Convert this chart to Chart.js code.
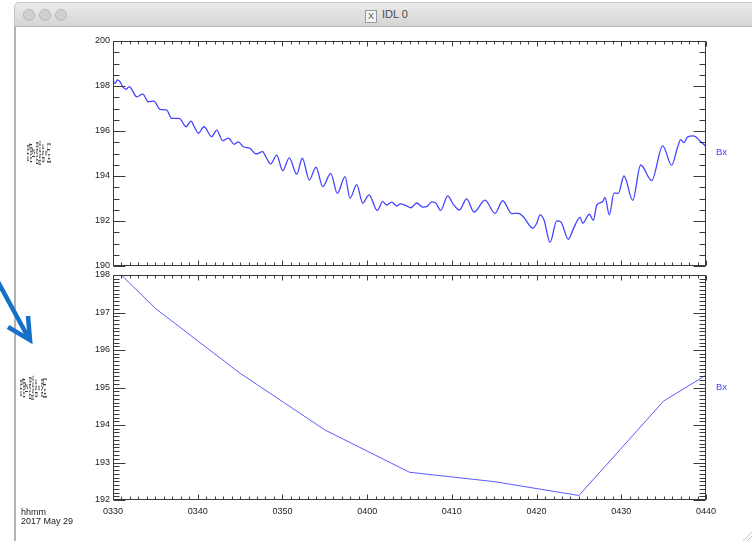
<!DOCTYPE html>
<html>
<head>
<meta charset="utf-8">
<script src="https://cdn.jsdelivr.net/npm/chart.js@4/dist/chart.umd.min.js"></script>
<style>
  html, body { margin: 0; padding: 0; background: #ffffff; width: 752px; height: 541px; overflow: hidden; }
  body { position: relative; font-family: "Liberation Sans", Arial, sans-serif; }
  canvas.plot { position: absolute; left: 0; top: 0; }
  .titlebar { position: absolute; left: 14px; top: 2px; width: 760px; height: 23px;
    background: linear-gradient(#ebebeb, #d5d5d5); border-bottom: 1px solid #b5b5b5;
    border-top-left-radius: 5px; border-top: 1px solid #c8c8c8; border-left: 1px solid #c0c0c0; }
  .dot { position: absolute; top: 6px; width: 12px; height: 12px; border-radius: 50%;
    background: #cfcfcf; border: 1px solid #b8b8b8; box-sizing: border-box; }
  .wtitle { position: absolute; left: 350px; top: 5px; font-size: 11px; color: #4a4a4a; }
  .xicon { display: inline-block; width: 10px; height: 11px; border: 1px solid #9a9a9a; font-size: 9px;
    line-height: 11px; text-align: center; color: #555; background: #f4f4f4; margin-right: 5px; vertical-align: -1px; }
  .leftborder { position: absolute; left: 14px; top: 26px; width: 2px; height: 515px; background: #b3b3b3; }
  .ytitle { position: absolute; font-size: 12px; line-height: 9px; color: #333; text-align: center;
    white-space: nowrap; transform: translate(-50%, -50%) rotate(-90deg) scale(1, 0.33); }
  .bx { position: absolute; font-size: 9.5px; color: #4646ff; }
  .stamp { position: absolute; left: 21px; font-size: 9px; color: #222; line-height: 8.5px; }
</style>
</head>
<body>
<div class="titlebar">
  <div class="dot" style="left:8px"></div>
  <div class="dot" style="left:24px"></div>
  <div class="dot" style="left:40px"></div>
  <div class="wtitle"><span class="xicon">X</span>IDL 0</div>
</div>
<div class="leftborder"></div>

<svg width="752" height="541" style="position:absolute;left:0;top:0">
  <line x1="-3" y1="280" x2="28" y2="337" stroke="#1570c8" stroke-width="4.5" />
  <polyline points="8,327 30,340 28,316" fill="none" stroke="#1570c8" stroke-width="4.5" stroke-linejoin="miter" />
  <g stroke="#c4c4c4" stroke-width="1">
    <line x1="743" y1="541" x2="752" y2="532" />
    <line x1="747" y1="541" x2="752" y2="536" />
  </g>
</svg>

<canvas id="c1" class="plot" width="752" height="541"></canvas>
<canvas id="c2" class="plot" width="752" height="541"></canvas>

<div class="ytitle" id="yt1" style="left:38px; top:153px;"></div>
<div class="ytitle" id="yt2" style="left:33px; top:388px;"></div>
<div class="bx" style="left:716px; top:146px;">Bx</div>
<div class="bx" style="left:716px; top:381px;">Bx</div>
<div class="stamp" style="top:508px;">hhmm<br>2017 May 29</div>

<script>
// ---------------- data ----------------
const xTickMinutes = [0, 10, 20, 30, 40, 50, 60, 70];
const xTickLabels  = ['0330', '0340', '0350', '0400', '0410', '0420', '0430', '0440'];

const topYTicks = [190, 192, 194, 196, 198, 200];
const avgYTicks = [192, 193, 194, 195, 196, 197, 198];

const topTitleLines = ['erg', 'mgf', 'l2', 'mag', '8sec', 'gse', 'x', '[nT]'];
const avgTitleLines = ['erg', 'mgf', 'l2', 'mag', '8sec', 'gse', 'x', 'avg', '[nT]'];
const seriesName = 'Bx';

// minutes after 03:30 UT
const topMinutes = [0, 0.24, 0.51, 0.83, 1.15, 1.53, 1.92, 2.21, 2.80, 3.51, 4.17, 4.84, 5.55, 6.34, 6.93, 7.83,
  8.62, 9.21, 9.60, 10.07, 10.74, 11.65, 12.24, 12.95, 13.61, 14.32, 14.79, 15.38, 16.17, 16.88, 17.67, 17.94,
  18.62, 19.32, 20.03, 20.81, 21.69, 22.35, 23.17, 23.96, 24.76, 25.70, 26.48, 27.39, 27.98, 28.77, 29.48, 30.22,
  31.20, 31.84, 32.31, 32.90, 33.49, 33.88, 34.47, 35.18, 35.85, 36.56, 37.03, 37.62, 38.13, 38.68, 39.51, 40.17,
  40.88, 41.75, 42.62, 43.91, 45.10, 46.00, 47.07, 47.85, 48.44, 49.55, 50.02, 50.41, 50.88, 51.59, 52.38, 52.85,
  53.75, 54.34, 55.13, 55.45, 56.23, 56.70, 57.10, 57.81, 58.08, 58.59, 59.14, 59.65, 60.32, 61.35, 62.29, 63.59,
  64.89, 65.95, 66.61, 67.02, 67.41, 67.80, 68.50, 69.50, 70.00];
const topValues = [198.24, 198.12, 198.27, 198.19, 197.97, 197.85, 197.97, 197.85, 197.52, 197.64, 197.30, 197.33, 196.96, 196.93, 196.56, 196.56,
  196.19, 196.44, 196.19, 195.90, 196.19, 195.75, 196.04, 195.57, 195.68, 195.41, 195.52, 195.30, 195.23, 194.98, 195.08, 194.93,
  194.54, 194.93, 194.24, 194.81, 194.08, 194.79, 193.82, 194.39, 193.53, 194.12, 193.23, 193.97, 193.01, 193.62, 192.79, 193.16,
  192.47, 192.86, 192.71, 192.84, 192.67, 192.76, 192.71, 192.59, 192.80, 192.62, 192.64, 192.85, 192.79, 192.47, 193.12, 192.74,
  192.49, 192.98, 192.40, 192.93, 192.34, 192.90, 192.33, 192.34, 192.19, 191.68, 191.90, 192.27, 192.04, 191.05, 192.01, 191.97,
  191.19, 191.65, 192.16, 191.90, 192.30, 192.03, 192.71, 192.86, 193.05, 192.27, 193.24, 193.23, 194.00, 192.92, 194.49, 193.80,
  195.34, 194.47, 195.23, 195.62, 195.48, 195.73, 195.78, 195.48, 195.31];

const avgMinutes = [0, 5, 15, 25, 35, 45, 55, 65, 70];
const avgValues  = [198.22, 197.11, 195.38, 193.87, 192.74, 192.49, 192.12, 194.64, 195.33];

// ---------------- text ----------------
document.getElementById('yt1').innerHTML = topTitleLines.join('<br>');
document.getElementById('yt2').innerHTML = avgTitleLines.join('<br>');
document.querySelectorAll('.bx').forEach(el => el.textContent = seriesName);

// ---------------- IDL-style box and inward ticks ----------------
const idlBox = {
  id: 'idlBox',
  afterDatasetsDraw(chart, args, o) {
    const { ctx, chartArea: a, scales } = chart;
    const xs = scales.x, ys = scales.y;
    const L = Math.round(a.left) + 0.5, R = Math.round(a.right) - 0.5;
    const T = Math.round(a.top) + 0.5, B = Math.round(a.bottom) - 0.5;
    ctx.save();
    ctx.strokeStyle = o.color;
    ctx.lineWidth = 1;
    ctx.beginPath();
    const ny = Math.round((o.yMax - o.yMin) / o.yMinor);
    for (let i = 0; i <= ny; i++) {
      const v = o.yMin + i * o.yMinor;
      const p = Math.round(ys.getPixelForValue(v)) + 0.5;
      const len = (i % o.yRatio === 0) ? o.yMajorLen : o.yMinorLen;
      ctx.moveTo(L, p); ctx.lineTo(L + len, p);
      ctx.moveTo(R, p); ctx.lineTo(R - len, p);
    }
    const nx = Math.round((o.xMax - o.xMin) / o.xMinor);
    for (let i = 0; i <= nx; i++) {
      const v = o.xMin + i * o.xMinor;
      const p = Math.round(xs.getPixelForValue(v)) + 0.5;
      const len = (i % o.xRatio === 0) ? o.xMajorLen : o.xMinorLen;
      ctx.moveTo(p, T); ctx.lineTo(p, T + len);
      ctx.moveTo(p, B); ctx.lineTo(p, B - len);
    }
    ctx.stroke();
    ctx.strokeRect(L, T, R - L, B - T);
    ctx.restore();
  }
};

function tickFont() { return { family: '"Liberation Sans", Arial, sans-serif', size: 9 }; }

function makeChart(id, pts, yTicks, yMin, yMax, yMinor, yRatio, padTop, padBottomArea, showX, lineColor, lineWidth, smooth) {
  return new Chart(document.getElementById(id), {
    type: 'line',
    data: { datasets: [{
      data: pts,
      borderColor: lineColor,
      borderWidth: lineWidth,
      pointRadius: 0,
      fill: false,
      cubicInterpolationMode: smooth ? 'monotone' : 'default',
      tension: 0
    }]},
    options: {
      responsive: false,
      devicePixelRatio: 1,
      animation: false,
      events: [],
      layout: { padding: { top: padTop, right: 46, left: 0, bottom: 0 } },
      plugins: {
        legend: { display: false },
        tooltip: { enabled: false },
        idlBox: { color: '#3a3a3a', yMin, yMax, yMinor, yRatio, yMajorLen: 12, yMinorLen: 6,
                  xMin: 0, xMax: 70, xMinor: 1, xRatio: 10, xMajorLen: 5, xMinorLen: 3 }
      },
      scales: {
        x: {
          type: 'linear', min: 0, max: 70,
          grid: { display: false, drawTicks: false },
          border: { display: false },
          afterBuildTicks: s => { s.ticks = xTickMinutes.map(v => ({ value: v })); },
          afterFit: s => { s.height = padBottomArea; },
          ticks: {
            display: showX, padding: 6, color: '#222', font: tickFont(), maxRotation: 0, autoSkip: false,
            callback: v => xTickLabels[xTickMinutes.indexOf(v)]
          }
        },
        y: {
          type: 'linear', min: yMin, max: yMax,
          grid: { display: false, drawTicks: false },
          border: { display: false },
          afterBuildTicks: s => { s.ticks = yTicks.map(v => ({ value: v })); },
          afterFit: s => { s.width = 113; },
          ticks: { padding: 3, color: '#222', font: tickFont(), autoSkip: false, callback: v => String(v) }
        }
      }
    },
    plugins: [idlBox]
  });
}

const topPts = topMinutes.map((m, i) => ({ x: m, y: topValues[i] }));
const avgPts = avgMinutes.map((m, i) => ({ x: m, y: avgValues[i] }));

makeChart('c1', topPts, topYTicks, 190, 200, 0.5, 4, 41, 541 - 266, false, 'rgb(68,68,255)', 1.3, true);
makeChart('c2', avgPts, avgYTicks, 192, 198, 0.1, 10, 275, 541 - 500, true, 'rgb(92,92,255)', 1, false);
</script>
</body>
</html>
